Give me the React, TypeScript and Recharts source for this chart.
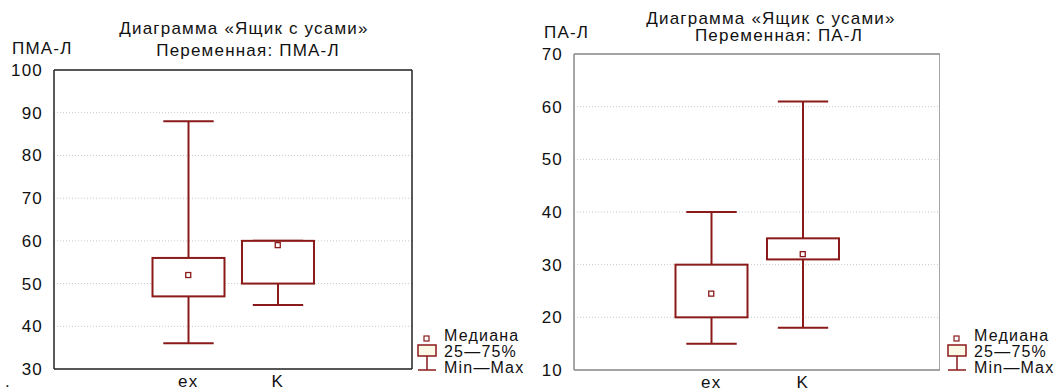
import { ComposedChart, Bar, Scatter, XAxis, YAxis, CartesianGrid } from "recharts";

const slots = ["pad0", "ex", "K", "pad3"];
const groups = ["ex", "K"];

const pmaMin = [36, 45];
const pmaQ1 = [47, 50];
const pmaMedian = [52, 59];
const pmaQ3 = [56, 60];
const pmaMax = [88, 60];
const pmaTicks = [30, 40, 50, 60, 70, 80, 90, 100];

const paMin = [15, 18];
const paQ1 = [20, 31];
const paMedian = [24.5, 32];
const paQ3 = [30, 35];
const paMax = [40, 61];
const paTicks = [10, 20, 30, 40, 50, 60, 70];

const legendLabels = ["Медиана", "25—75%", "Min—Max"];

const RED = "#8b1a1a";
const FONT = '"Liberation Sans", Arial, sans-serif';
const SPACING = "1.2px";

function buildRows(min: number[], q1: number[], med: number[], q3: number[], max: number[]) {
  return slots.map((slot) => {
    const g = groups.indexOf(slot);
    if (g < 0) return { slot };
    return { slot, range: [min[g], max[g]], q1: q1[g], q3: q3[g], median: med[g] };
  });
}

function BoxShape(props: any) {
  const { x, y, width, height, payload } = props;
  if (!payload || !payload.range || !height) return null;
  const [lo, hi] = payload.range;
  const top = Math.min(y, y + height);
  const k = Math.abs(height) / (hi - lo);
  const py = (v: number) => top + (hi - v) * k;
  const cx = x + width / 2;
  const cap = width * 0.35;
  return (
    <g stroke={RED} strokeWidth={2} fill="none">
      <line x1={cx} x2={cx} y1={py(hi)} y2={py(lo)} />
      <line x1={cx - cap} x2={cx + cap} y1={py(hi)} y2={py(hi)} />
      <line x1={cx - cap} x2={cx + cap} y1={py(lo)} y2={py(lo)} />
      <rect x={x} y={py(payload.q3)} width={width} height={py(payload.q1) - py(payload.q3)} fill="#fff" />
    </g>
  );
}

function MedianShape(props: any) {
  const { cx, cy } = props;
  if (cx == null || cy == null) return null;
  return <rect x={cx - 2.5} y={cy - 2.5} width={5} height={5} fill="#fff" stroke={RED} strokeWidth={1.3} />;
}

const tickStyle = { fontSize: 17, fill: "#111", fontFamily: FONT, letterSpacing: SPACING };

interface BoxChartProps {
  rows: any[];
  ticks: number[];
  left: number;
  width: number;
  top: number;
  bottom: number;
  right: number;
  frame: string;
}

function BoxChart({ rows, ticks, left, width, top, bottom, right, frame }: BoxChartProps) {
  const domain = [ticks[0], ticks[ticks.length - 1]];
  return (
    <div style={{ position: "absolute", left, top: 0 }}>
      <ComposedChart width={width} height={391} data={rows} margin={{ top: top - 1, right: right - 1, bottom: 0, left: 0 }}>
        <CartesianGrid vertical={false} stroke="#c8c8c8" strokeDasharray="1 2" />
        <XAxis
          dataKey="slot"
          height={bottom}
          axisLine={{ stroke: frame, strokeWidth: 1.5 }}
          tickLine={false}
          tickSize={0}
          tickMargin={6}
          tick={tickStyle}
          interval={0}
          tickFormatter={(v: string) => (v.startsWith("pad") ? "" : v)}
        />
        <XAxis
          xAxisId="top"
          dataKey="slot"
          orientation="top"
          height={1}
          axisLine={{ stroke: frame, strokeWidth: 1.5 }}
          tickLine={false}
          tick={false}
          interval={0}
        />
        <YAxis
          type="number"
          domain={domain}
          ticks={ticks}
          width={54}
          axisLine={{ stroke: frame, strokeWidth: 1.5 }}
          tickLine={false}
          tickSize={0}
          tickMargin={11}
          tick={tickStyle}
          allowDataOverflow
        />
        <YAxis
          yAxisId="right"
          orientation="right"
          type="number"
          domain={domain}
          ticks={ticks}
          width={1}
          axisLine={{ stroke: frame, strokeWidth: 1.5 }}
          tickLine={false}
          tick={false}
        />
        <Bar dataKey="range" barSize={72} shape={<BoxShape />} isAnimationActive={false} />
        <Scatter dataKey="median" shape={<MedianShape />} isAnimationActive={false} />
      </ComposedChart>
    </div>
  );
}

function Legend({ left }: { left: number }) {
  return (
    <div style={{ position: "absolute", left, top: 326 }}>
      <svg width={22} height={50} style={{ position: "absolute", left: 0, top: 0 }}>
        <rect x={8} y={10} width={5} height={5} fill="#fff" stroke={RED} strokeWidth={1.2} />
        <rect x={2} y={19} width={18} height={11} fill="#fbf8e6" stroke={RED} strokeWidth={1.5} />
        <line x1={11} x2={11} y1={30} y2={44} stroke={RED} strokeWidth={1.5} />
        <line x1={2} x2={20} y1={44} y2={44} stroke={RED} strokeWidth={1.5} />
      </svg>
      {legendLabels.map((t, i) => (
        <div
          key={t}
          style={{
            position: "absolute",
            left: 28,
            top: 2 + i * 16,
            fontFamily: FONT,
            fontSize: 16,
            letterSpacing: SPACING,
            lineHeight: "16px",
            whiteSpace: "nowrap",
            color: "#111",
          }}
        >
          {t}
        </div>
      ))}
    </div>
  );
}

const textBase = {
  position: "absolute" as const,
  fontFamily: FONT,
  fontSize: 17,
  letterSpacing: SPACING,
  whiteSpace: "nowrap" as const,
  color: "#111",
  lineHeight: "16px",
};

export default function App() {
  const pmaRows = buildRows(pmaMin, pmaQ1, pmaMedian, pmaQ3, pmaMax);
  const paRows = buildRows(paMin, paQ1, paMedian, paQ3, paMax);
  return (
    <div style={{ position: "absolute", left: 0, top: 0, width: 1061, height: 391, overflow: "hidden", background: "#fff" }}>
      <BoxChart rows={pmaRows} ticks={pmaTicks} left={0} width={420} top={70} bottom={22} right={8} frame="#222" />
      <BoxChart rows={paRows} ticks={paTicks} left={520} width={420} top={54} bottom={21} right={0} frame="#888" />

      <div style={{ ...textBase, left: 244, top: 21, transform: "translateX(-50%)" }}>Диаграмма «Ящик с усами»</div>
      <div style={{ ...textBase, left: 248, top: 43, transform: "translateX(-50%)" }}>Переменная: ПМА-Л</div>
      <div style={{ ...textBase, left: 12, top: 41 }}>ПМА-Л</div>

      <div style={{ ...textBase, left: 771, top: 11, transform: "translateX(-50%)" }}>Диаграмма «Ящик с усами»</div>
      <div style={{ ...textBase, left: 779, top: 28, transform: "translateX(-50%)" }}>Переменная: ПА-Л</div>
      <div style={{ ...textBase, left: 544, top: 25 }}>ПА-Л</div>

      <div style={{ ...textBase, left: 5, top: 374 }}>.</div>

      <Legend left={416} />
      <Legend left={946} />
    </div>
  );
}
